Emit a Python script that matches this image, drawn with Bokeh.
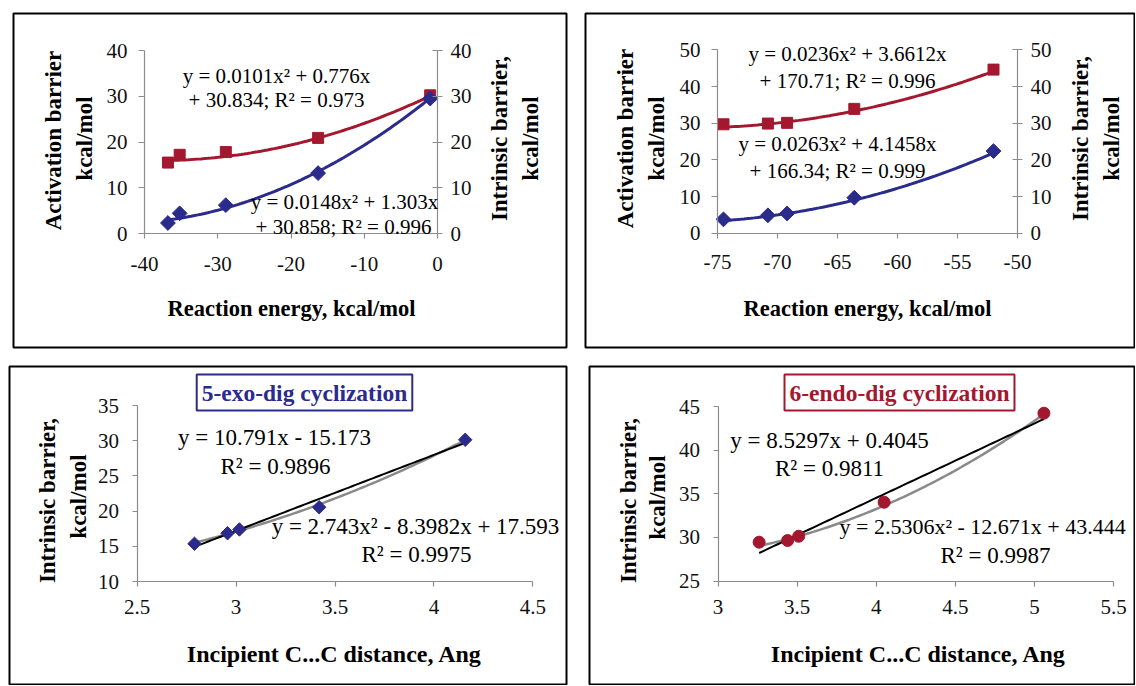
import numpy as np
from bokeh.plotting import figure
from bokeh.models import Range1d, LinearAxis, FixedTicker, NumeralTickFormatter, Label
from bokeh.layouts import column, row
from bokeh.embed import file_html
from bokeh.resources import INLINE

BLUE = "#2B2B8C"
RED = "#A3182E"
AXIS = "#8c8c8c"
SERIF = "Liberation Serif"

# ---------------- data ----------------
# Panel 1 (reaction energy vs barriers)
p1_energy = [-36.8, -35.2, -28.9, -16.3, -1.0]
p1_intrinsic = [15.5, 17.2, 17.8, 20.9, 30.2]
p1_activation = [2.3, 4.4, 6.2, 13.2, 29.5]
p1_intr_coef = [0.0101, 0.776, 30.834]
p1_act_coef = [0.0148, 1.303, 30.858]
p1_x_ticks = [-40, -30, -20, -10, 0]
p1_y_ticks = [0, 10, 20, 30, 40]

# Panel 2
p2_energy = [-74.5, -70.8, -69.2, -63.6, -52.0]
p2_intrinsic = [29.7, 29.9, 30.1, 33.9, 44.6]
p2_activation = [3.8, 4.9, 5.4, 9.7, 22.4]
p2_intr_coef = [0.0236, 3.6612, 170.71]
p2_act_coef = [0.0263, 4.1458, 166.34]
p2_x_ticks = [-75, -70, -65, -60, -55, -50]
p2_y_ticks = [0, 10, 20, 30, 40, 50]

# Panel 3 (5-exo-dig)
p3_dist = [2.79, 2.957, 3.017, 3.42, 4.158]
p3_barrier = [15.36, 16.86, 17.39, 20.55, 30.13]
p3_lin_coef = [10.791, -15.173]
p3_quad_coef = [2.743, -8.3982, 17.593]
p3_x_ticks = [2.5, 3, 3.5, 4, 4.5]
p3_y_ticks = [10, 15, 20, 25, 30, 35]

# Panel 4 (6-endo-dig)
p4_dist = [3.26, 3.44, 3.51, 4.05, 5.06]
p4_barrier = [29.45, 29.64, 30.13, 34.03, 44.23]
p4_lin_coef = [8.5297, 0.4045]
p4_quad_coef = [2.5306, -12.671, 43.444]
p4_x_ticks = [3, 3.5, 4, 4.5, 5, 5.5]
p4_y_ticks = [25, 30, 35, 40, 45]


def trend(coef, xs, n=80):
    xx = np.linspace(min(xs), max(xs), n)
    return xx, np.polyval(coef, xx)


def make_panel(canvas, frame, xmap, ymap):
    cx, cy, cw, ch = canvas
    fl, ft, fr, fb = frame
    pxa, va, pxb, vb = xmap
    kx = (pxb - pxa) / (vb - va)
    pya, wa, pyb, wb = ymap
    ky = (pya - pyb) / (wb - wa)

    def X(px):
        return va + (px - pxa) / kx

    def Y(py):
        return wa + (pya - py) / ky

    p = figure(width=cw, height=ch,
               x_range=Range1d(X(fl), X(fr)), y_range=Range1d(Y(fb), Y(ft)),
               x_axis_location=None, y_axis_location=None,
               toolbar_location=None, tools="", output_backend="svg",
               min_border_left=fl - cx, min_border_right=cx + cw - fr,
               min_border_top=ft - cy, min_border_bottom=cy + ch - fb)
    p.outline_line_color = "black"
    p.outline_line_width = 2
    p.outline_line_alpha = 1
    p.background_fill_color = "white"
    p.border_fill_color = "white"
    p.xgrid.grid_line_color = None
    p.ygrid.grid_line_color = None
    return p, X, Y


def add_axis(p, side, loc, ticks, tick_in, tick_out, standoff):
    ax = LinearAxis(fixed_location=loc, bounds=(min(ticks), max(ticks)),
                    ticker=FixedTicker(ticks=ticks),
                    formatter=NumeralTickFormatter(format="0.[0]"))
    ax.axis_line_color = AXIS
    ax.axis_line_width = 1.2
    ax.major_tick_line_color = AXIS
    ax.major_tick_line_width = 1.2
    ax.major_tick_in = tick_in
    ax.major_tick_out = tick_out
    ax.minor_tick_line_color = None
    ax.major_label_standoff = standoff
    ax.major_label_text_font = SERIF
    ax.major_label_text_font_size = "21px"
    ax.major_label_text_color = "#111111"
    p.add_layout(ax, side)
    return ax


def label(p, X, Y, text, px, py, size, bold=False, color="black", angle=0.0,
          align="center", **kw):
    p.add_layout(Label(x=X(px), y=Y(py), text=text, text_font=SERIF,
                       text_font_size=f"{size}px",
                       text_font_style="bold" if bold else "normal",
                       text_color=color, angle=angle, text_align=align,
                       text_baseline="middle", **kw))


HALF_PI = np.pi / 2

# ---------------- panel 1 ----------------
p1, X1, Y1 = make_panel((0, 0, 576, 357), (13, 13, 566, 347),
                        (144, -40, 437, 0), (233, 0, 50, 40))
add_axis(p1, "below", 0, p1_x_ticks, 0, 5, 18)
add_axis(p1, "left", -40, p1_y_ticks, 0, 6, 11)
add_axis(p1, "right", 0, p1_y_ticks, 5, 5, 8)
xx, yy = trend(p1_intr_coef, p1_energy)
p1.line(xx, yy, line_color=RED, line_width=3)
xx, yy = trend(p1_act_coef, p1_energy)
p1.line(xx, yy, line_color=BLUE, line_width=3)
p1.scatter(p1_energy, p1_intrinsic, marker="square", size=11,
           fill_color=RED, line_color=RED)
p1.scatter(p1_energy, p1_activation, marker="square", angle=np.pi / 4, size=10.5,
           fill_color=BLUE, line_color=BLUE)
label(p1, X1, Y1, "y = 0.0101x² + 0.776x", 276, 75, 21)
label(p1, X1, Y1, "+ 30.834; R² = 0.973", 276, 99, 21)
label(p1, X1, Y1, "y = 0.0148x² + 1.303x", 344, 201, 21)
label(p1, X1, Y1, "+ 30.858; R² = 0.996", 343, 226, 21)
label(p1, X1, Y1, "Reaction energy, kcal/mol", 291, 308, 22.5, bold=True)
label(p1, X1, Y1, "Activation barrier", 53, 140, 23, bold=True, angle=HALF_PI)
label(p1, X1, Y1, "kcal/mol", 84, 138, 23, bold=True, angle=HALF_PI)
label(p1, X1, Y1, "Intrinsic barrier,", 499, 138, 23, bold=True, angle=HALF_PI)
label(p1, X1, Y1, "kcal/mol", 530, 138, 23, bold=True, angle=HALF_PI)

# ---------------- panel 2 ----------------
p2, X2, Y2 = make_panel((576, 0, 559, 357), (585, 13, 1135, 347),
                        (717, -75, 1017, -50), (232.8, 0, 49.3, 50))
add_axis(p2, "below", 0, p2_x_ticks, 0, 5, 17)
add_axis(p2, "left", -75, p2_y_ticks, 0, 6, 11)
add_axis(p2, "right", -50, p2_y_ticks, 5, 5, 8)
xx, yy = trend(p2_intr_coef, p2_energy)
p2.line(xx, yy, line_color=RED, line_width=3)
xx, yy = trend(p2_act_coef, p2_energy)
p2.line(xx, yy, line_color=BLUE, line_width=3)
p2.scatter(p2_energy, p2_intrinsic, marker="square", size=11,
           fill_color=RED, line_color=RED)
p2.scatter(p2_energy, p2_activation, marker="square", angle=np.pi / 4, size=10.5,
           fill_color=BLUE, line_color=BLUE)
label(p2, X2, Y2, "y = 0.0236x² + 3.6612x", 847, 53, 21)
label(p2, X2, Y2, "+ 170.71; R² = 0.996", 847, 80, 21)
label(p2, X2, Y2, "y = 0.0263x² + 4.1458x", 837, 143, 21)
label(p2, X2, Y2, "+ 166.34; R² = 0.999", 837, 170, 21)
label(p2, X2, Y2, "Reaction energy, kcal/mol", 867, 308, 22.5, bold=True)
label(p2, X2, Y2, "Activation barrier", 625, 138, 23, bold=True, angle=HALF_PI)
label(p2, X2, Y2, "kcal/mol", 656, 138, 23, bold=True, angle=HALF_PI)
label(p2, X2, Y2, "Intrinsic barrier,", 1080, 138, 23, bold=True, angle=HALF_PI)
label(p2, X2, Y2, "kcal/mol", 1111, 138, 23, bold=True, angle=HALF_PI)

# ---------------- panel 3 ----------------
p3, X3, Y3 = make_panel((0, 357, 576, 328), (9, 366, 566, 685),
                        (136.6, 2.5, 532.4, 4.5), (581, 10, 405, 35))
add_axis(p3, "below", 10, p3_x_ticks, 0, 5, 13)
add_axis(p3, "left", 2.5, p3_y_ticks, 0, 5, 13)
xx, yy = trend(p3_quad_coef, p3_dist)
p3.line(xx, yy, line_color="#8a8a8a", line_width=2.5)
xx, yy = trend(p3_lin_coef, p3_dist)
p3.line(xx, yy, line_color="black", line_width=2)
p3.scatter(p3_dist, p3_barrier, marker="square", angle=np.pi / 4, size=9.5,
           fill_color=BLUE, line_color=BLUE)
label(p3, X3, Y3, "y = 10.791x - 15.173", 274, 437, 23)
label(p3, X3, Y3, "R² = 0.9896", 275, 466, 23)
label(p3, X3, Y3, "y = 2.743x² - 8.3982x + 17.593", 415, 526, 23)
label(p3, X3, Y3, "R² = 0.9975", 416, 554, 23)
label(p3, X3, Y3, "Incipient C...C distance, Ang", 334, 653, 24, bold=True)
label(p3, X3, Y3, "Intrinsic barrier,", 47, 500, 23, bold=True, angle=HALF_PI)
label(p3, X3, Y3, "kcal/mol", 78, 496, 23, bold=True, angle=HALF_PI)
label(p3, X3, Y3, "5-exo-dig cyclization", 304, 392, 23.5, bold=True, color=BLUE,
      border_line_color=BLUE, border_line_width=2, background_fill_color="white",
      padding=5)

# ---------------- panel 4 ----------------
p4, X4, Y4 = make_panel((576, 357, 559, 328), (589, 366, 1135, 685),
                        (717.5, 3, 1113, 5.5), (580.5, 25, 406, 45))
add_axis(p4, "below", 25, p4_x_ticks, 0, 5, 14)
add_axis(p4, "left", 3, p4_y_ticks, 0, 5, 13)
xx, yy = trend(p4_quad_coef, p4_dist)
p4.line(xx, yy, line_color="#8a8a8a", line_width=2.5)
xx, yy = trend(p4_lin_coef, p4_dist)
p4.line(xx, yy, line_color="black", line_width=2)
p4.scatter(p4_dist, p4_barrier, marker="circle", size=12,
           fill_color=RED, line_color=RED)
label(p4, X4, Y4, "y = 8.5297x + 0.4045", 829, 440, 23)
label(p4, X4, Y4, "R² = 0.9811", 829, 468, 23)
label(p4, X4, Y4, "y = 2.5306x² - 12.671x + 43.444", 839, 526, 22, align="left")
label(p4, X4, Y4, "R² = 0.9987", 995, 555, 23)
label(p4, X4, Y4, "Incipient C...C distance, Ang", 918, 653, 24, bold=True)
label(p4, X4, Y4, "Intrinsic barrier,", 628, 500, 23, bold=True, angle=HALF_PI)
label(p4, X4, Y4, "kcal/mol", 657, 497, 23, bold=True, angle=HALF_PI)
label(p4, X4, Y4, "6-endo-dig cyclization", 899, 392, 23.5, bold=True, color=RED,
      border_line_color=RED, border_line_width=2, background_fill_color="white",
      padding=5)

layout = column(row(p1, p2), row(p3, p4))
open("out.html", "w").write(file_html(layout, INLINE))
